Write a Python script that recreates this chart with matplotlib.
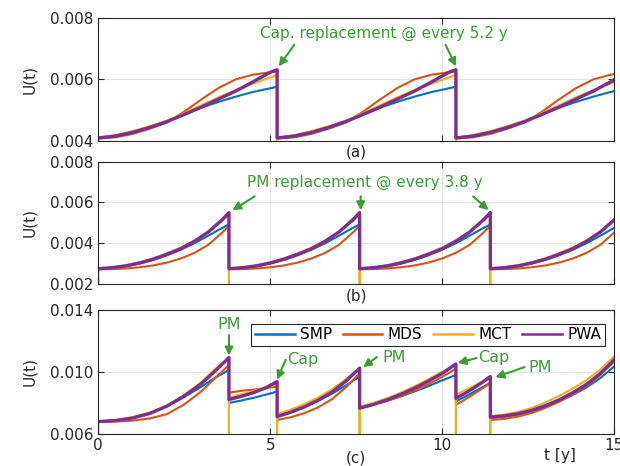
import numpy as np
import matplotlib
matplotlib.use('Agg')
import matplotlib.pyplot as plt

# MATLAB default line colours
colors = {'SMP': '#0072BD', 'MDS': '#D95319', 'MCT': '#EDB120', 'PWA': '#7E2F8E'}
green = '#3a9e35'
methods = ['SMP', 'MDS', 'MCT', 'PWA']

# ---- panel (a): capacitor replacement every 5.2 y (one cycle, repeated) ----
a_starts = [0.0, 5.2, 10.4]
a_ages = [0, 0.5, 1.0, 1.5, 2.0, 2.5, 3.0, 3.5, 4.0, 4.5, 5.0, 5.2]
a_vals = {
    'SMP': [0.00410, 0.00418, 0.00430, 0.00446, 0.00464, 0.00486, 0.00508, 0.00527, 0.00544, 0.00559, 0.00571, 0.00576],
    'MDS': [0.00408, 0.00412, 0.00423, 0.00440, 0.00460, 0.00495, 0.00535, 0.00572, 0.00600, 0.00615, 0.00623, 0.00626],
    'MCT': [0.00410, 0.00419, 0.00432, 0.00448, 0.00466, 0.00490, 0.00516, 0.00542, 0.00565, 0.00586, 0.00606, 0.00614],
    'PWA': [0.00410, 0.00416, 0.00428, 0.00444, 0.00463, 0.00486, 0.00510, 0.00536, 0.00562, 0.00592, 0.00623, 0.00631],
}
a_mct_dip = 0.0030

# ---- panel (b): PM replacement every 3.8 y ----
b_starts = [0.0, 3.8, 7.6, 11.4]
b_ages = [0, 0.4, 0.8, 1.2, 1.6, 2.0, 2.4, 2.8, 3.2, 3.6, 3.8]
b_vals = {
    'SMP': [0.00275, 0.00279, 0.00287, 0.00300, 0.00318, 0.00341, 0.00368, 0.00400, 0.00437, 0.00475, 0.00492],
    'MDS': [0.00272, 0.00273, 0.00276, 0.00282, 0.00291, 0.00305, 0.00325, 0.00353, 0.00392, 0.00452, 0.00485],
    'MCT': [0.00275, 0.00281, 0.00291, 0.00306, 0.00326, 0.00350, 0.00379, 0.00413, 0.00456, 0.00508, 0.00540],
    'PWA': [0.00275, 0.00280, 0.00289, 0.00303, 0.00322, 0.00346, 0.00373, 0.00410, 0.00455, 0.00515, 0.00550],
}
b_mct_dip = 0.0010

# ---- panel (c): combined PM + Cap replacement ----
c_starts = [0.0, 3.8, 5.2, 7.6, 10.4, 11.4]
c_ages = [
    [0, 0.5, 1.0, 1.5, 2.0, 2.5, 3.0, 3.4, 3.8],
    [0, 0.35, 0.7, 1.05, 1.4],
    [0, 0.4, 0.8, 1.2, 1.6, 2.0, 2.4],
    [0, 0.4, 0.8, 1.2, 1.6, 2.0, 2.4, 2.8],
    [0, 0.25, 0.5, 0.75, 1.0],
    [0, 0.4, 0.8, 1.2, 1.6, 2.0, 2.4, 2.8, 3.2, 3.6],
]
c_vals = {
    'SMP': [
        [0.00680, 0.00688, 0.00705, 0.00735, 0.00778, 0.00838, 0.00905, 0.00962, 0.01012],
        [0.00800, 0.00815, 0.00832, 0.00852, 0.00873],
        [0.00720, 0.00745, 0.00777, 0.00815, 0.00860, 0.00912, 0.00970],
        [0.00770, 0.00790, 0.00815, 0.00843, 0.00874, 0.00908, 0.00945, 0.00980],
        [0.00810, 0.00838, 0.00868, 0.00898, 0.00930],
        [0.00705, 0.00712, 0.00725, 0.00746, 0.00775, 0.00810, 0.00852, 0.00900, 0.00960, 0.01034],
    ],
    'MDS': [
        [0.00678, 0.00680, 0.00686, 0.00700, 0.00728, 0.00790, 0.00875, 0.00960, 0.01045],
        [0.00865, 0.00878, 0.00885, 0.00895, 0.00905],
        [0.00690, 0.00708, 0.00735, 0.00772, 0.00825, 0.00900, 0.00990],
        [0.00772, 0.00790, 0.00813, 0.00842, 0.00878, 0.00920, 0.00968, 0.01020],
        [0.00787, 0.00820, 0.00855, 0.00890, 0.00927],
        [0.00690, 0.00697, 0.00712, 0.00735, 0.00768, 0.00808, 0.00855, 0.00910, 0.00980, 0.01066],
    ],
    'MCT': [
        [0.00680, 0.00690, 0.00708, 0.00738, 0.00782, 0.00848, 0.00935, 0.01020, 0.01085],
        [0.00835, 0.00855, 0.00875, 0.00898, 0.00920],
        [0.00728, 0.00757, 0.00793, 0.00835, 0.00888, 0.00953, 0.01020],
        [0.00775, 0.00800, 0.00830, 0.00866, 0.00908, 0.00953, 0.01000, 0.01045],
        [0.00853, 0.00880, 0.00907, 0.00935, 0.00960],
        [0.00715, 0.00725, 0.00742, 0.00768, 0.00803, 0.00845, 0.00893, 0.00948, 0.01015, 0.01099],
    ],
    'PWA': [
        [0.00680, 0.00686, 0.00703, 0.00732, 0.00780, 0.00845, 0.00925, 0.01005, 0.01092],
        [0.00822, 0.00842, 0.00865, 0.00895, 0.00937],
        [0.00712, 0.00740, 0.00775, 0.00818, 0.00870, 0.00940, 0.01024],
        [0.00766, 0.00790, 0.00820, 0.00855, 0.00895, 0.00940, 0.00990, 0.01050],
        [0.00830, 0.00860, 0.00893, 0.00930, 0.00970],
        [0.00708, 0.00716, 0.00730, 0.00752, 0.00782, 0.00820, 0.00866, 0.00920, 0.00990, 0.01077],
    ],
}
c_mct_dip = 0.0040


def build(starts, ages_list, vals_list, dip=None):
    t, v = [], []
    for s, ages, vals in zip(starts, ages_list, vals_list):
        if dip is not None:
            t.append(s)
            v.append(dip)
        t.extend(s + np.asarray(ages))
        v.extend(vals)
    return np.array(t), np.array(v)


plt.rcParams['font.family'] = ['DejaVu Sans']
plt.rcParams['font.size'] = 11

fig = plt.figure(figsize=(6.2, 4.66), dpi=100)
left, width = 0.1585, 0.832
ax_a = fig.add_axes([left, 0.6974, width, 0.2648])
ax_b = fig.add_axes([left, 0.3906, width, 0.2624])
ax_c = fig.add_axes([left, 0.0687, width, 0.2667])

panels = [
    (ax_a, a_starts, [a_ages] * len(a_starts), a_vals, a_mct_dip, (0.004, 0.008), [0.004, 0.006, 0.008], False),
    (ax_b, b_starts, [b_ages] * len(b_starts), b_vals, b_mct_dip, (0.002, 0.008), [0.002, 0.004, 0.006, 0.008], False),
    (ax_c, c_starts, c_ages, c_vals, c_mct_dip, (0.006, 0.014), [0.006, 0.010, 0.014], True),
]

for ax, starts, ages_list, vals, dip, ylim, yticks, per_segment in panels:
    for m in methods:
        vl = vals[m] if per_segment else [vals[m]] * len(starts)
        t, v = build(starts, ages_list, vl, dip if m == 'MCT' else None)
        lw = 2.4 if m == 'PWA' else 1.5
        ax.plot(t, v, color=colors[m], lw=lw, label=m)
    ax.set_xlim(0, 15)
    ax.set_ylim(*ylim)
    ax.set_yticks(yticks)
    ax.set_yticklabels([f'{y:.3f}' for y in yticks])
    ax.set_xticks([0, 5, 10, 15])
    ax.grid(True, color='#e3e3e3', lw=0.8)
    ax.set_axisbelow(True)
    ax.tick_params(direction='in', length=4, top=True, right=True, colors='#262626',
                   labelcolor='#262626', labelsize=11)
    for sp in ax.spines.values():
        sp.set_color('#262626')
        sp.set_linewidth(0.8)
    ax.set_ylabel('U(t)', color='#262626', labelpad=9)

ax_a.set_xticklabels([])
ax_b.set_xticklabels([])
ax_c.set_xticklabels(['0', '5', '10', '15'])
ax_c.tick_params(axis='x', pad=3)

ax_a.text(0.5, -0.09, '(a)', transform=ax_a.transAxes, ha='center', va='center', color='#262626')
ax_b.text(0.5, -0.10, '(b)', transform=ax_b.transAxes, ha='center', va='center', color='#262626')
ax_c.text(0.5, -0.19, '(c)', transform=ax_c.transAxes, ha='center', va='center', color='#262626')
ax_c.text(0.895, -0.17, 't [y]', transform=ax_c.transAxes, ha='center', va='center', color='#262626')

arrow = dict(arrowstyle='-|>', color=green, lw=1.5, mutation_scale=12, shrinkA=0, shrinkB=0)

# (a) annotations
ax_a.text(8.3, 0.0075, 'Cap. replacement @ every 5.2 y', color=green, ha='center', va='center', fontsize=11)
ax_a.annotate('', xy=(5.25, 0.00642), xytext=(5.7, 0.00712), arrowprops=arrow)
ax_a.annotate('', xy=(10.4, 0.00642), xytext=(10.1, 0.00712), arrowprops=arrow)

# (b) annotations
ax_b.text(7.75, 0.00696, 'PM replacement @ every 3.8 y', color=green, ha='center', va='center', fontsize=11)
ax_b.annotate('', xy=(3.9, 0.00562), xytext=(4.55, 0.0063), arrowprops=arrow)
ax_b.annotate('', xy=(7.63, 0.00562), xytext=(7.63, 0.0063), arrowprops=arrow)
ax_b.annotate('', xy=(11.35, 0.00562), xytext=(10.9, 0.0063), arrowprops=arrow)

# (c) annotations
ax_c.text(3.8, 0.01302, 'PM', color=green, ha='center', va='center', fontsize=11.5)
ax_c.annotate('', xy=(3.8, 0.01105), xytext=(3.8, 0.01237), arrowprops=arrow)
ax_c.text(5.95, 0.01080, 'Cap', color=green, ha='center', va='center', fontsize=11.5)
ax_c.annotate('', xy=(5.2, 0.00950), xytext=(5.45, 0.01078), arrowprops=arrow)
ax_c.text(8.6, 0.01095, 'PM', color=green, ha='center', va='center', fontsize=11.5)
ax_c.annotate('', xy=(7.7, 0.01030), xytext=(8.1, 0.01095), arrowprops=arrow)
ax_c.text(11.5, 0.01090, 'Cap', color=green, ha='center', va='center', fontsize=11.5)
ax_c.annotate('', xy=(10.45, 0.01057), xytext=(11.0, 0.01089), arrowprops=arrow)
ax_c.text(12.85, 0.01030, 'PM', color=green, ha='center', va='center', fontsize=11.5)
ax_c.annotate('', xy=(11.55, 0.00965), xytext=(12.4, 0.01031), arrowprops=arrow)

leg = ax_c.legend(loc='center', bbox_to_anchor=(0.639, 0.797), ncol=4, frameon=True,
                  fancybox=False, edgecolor='#262626', framealpha=1, fontsize=11,
                  handlelength=2.6, columnspacing=0.7, handletextpad=0.35,
                  borderpad=0.25, borderaxespad=0)
leg.get_frame().set_linewidth(0.8)
for line in leg.get_lines():
    line.set_linewidth(1.8)

fig.savefig('out.png', dpi=100)
